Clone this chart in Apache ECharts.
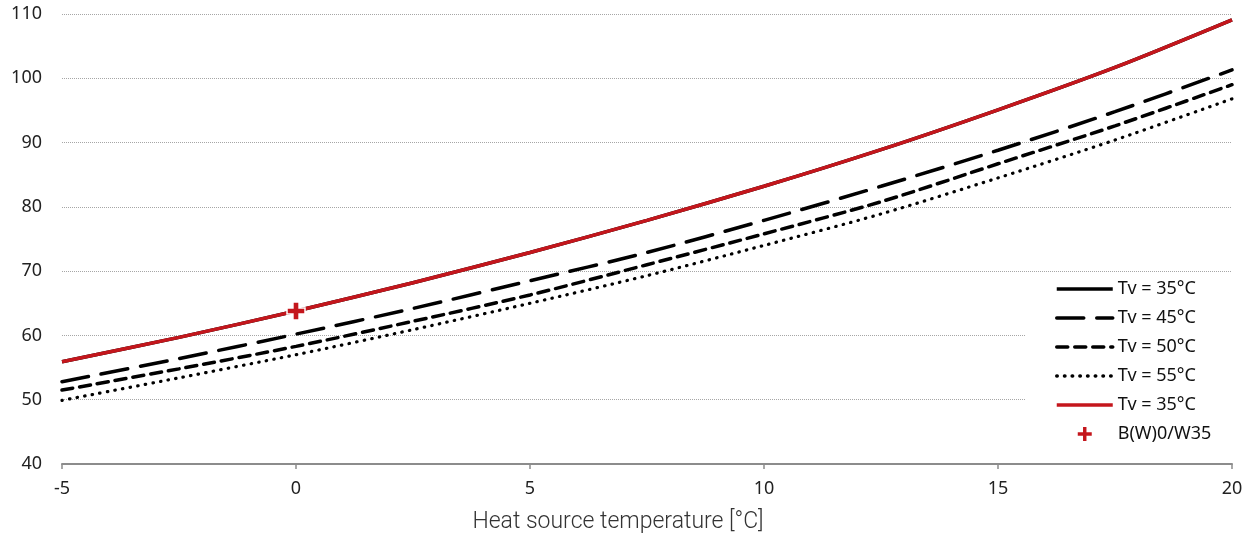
<!DOCTYPE html>
<html>
<head>
<meta charset="utf-8">
<script src="https://cdn.jsdelivr.net/npm/echarts@6/dist/echarts.min.js"></script>
<style>html,body{margin:0;padding:0;background:#fff;}#c{width:1253px;height:540px;}</style>
</head>
<body>
<div id="c"></div>
<script>
// Heat source temperature [°C]
const xs = [-5, -2.5, 0, 2.5, 5, 7.5, 10, 12.5, 15, 17.5, 20];
const tv35 = [55.9, 59.7, 63.8, 68.2, 72.9, 77.9, 83.2, 88.9, 95.1, 101.7, 109.1];
const tv45 = [52.8, 56.4, 60.2, 64.2, 68.5, 72.9, 77.9, 83.2, 88.8, 94.8, 101.3];
const tv50 = [51.5, 54.8, 58.3, 62.2, 66.3, 71.0, 75.8, 80.8, 86.7, 92.6, 99.0];
const tv55 = [49.9, 53.4, 57.0, 60.9, 65.0, 69.3, 74.0, 78.9, 84.5, 90.4, 96.8];
const pointX = [0];
const pointY = [63.8];
const seriesNames = ['Tv = 35°C', 'Tv = 45°C', 'Tv = 50°C', 'Tv = 55°C', 'Tv = 35°C ', 'B(W)0/W35'];
const xTicks = { min: -5, max: 20, interval: 5 };
const yTicks = { min: 40, max: 110, interval: 10 };
const xTitle = 'Heat source temperature [°C]';

const pairs = arr => xs.map((x, i) => [x, arr[i]]);
const plus = 'path://M3.3,0H6.7V3.3H10V6.7H6.7V10H3.3V6.7H0V3.3H3.3Z';
const font = '"Noto Sans", sans-serif';

const legendData = seriesNames.map((n, i) => i < 5
  ? { name: n, itemStyle: { opacity: 0 }, lineStyle: { width: 3.5 } }
  : { name: n });

const chart = echarts.init(document.getElementById('c'), null, { renderer: 'canvas' });
chart.setOption({
  animation: false,
  backgroundColor: '#fff',
  grid: { left: 62, right: 21, top: 14, bottom: 76, containLabel: false, outerBoundsMode: 'none' },
  xAxis: {
    type: 'value', min: xTicks.min, max: xTicks.max, interval: xTicks.interval,
    name: xTitle, nameLocation: 'middle', nameGap: 47,
    nameTextStyle: { fontFamily: 'Roboto, sans-serif', fontWeight: 300, fontSize: 23, color: '#333', padding: [0, 58, 0, 0] },
    axisLine: { lineStyle: { color: '#8c8c8c', width: 2 } },
    axisTick: { show: true, length: 5, lineStyle: { color: '#8c8c8c', width: 1.5 } },
    splitLine: { show: false },
    axisLabel: { fontFamily: font, fontSize: 18, color: '#222', margin: 16 }
  },
  yAxis: {
    type: 'value', min: yTicks.min, max: yTicks.max, interval: yTicks.interval,
    axisLine: { show: false }, axisTick: { show: false },
    splitLine: { show: true, lineStyle: { color: '#a6a6a6', width: 1, type: [1, 1] } },
    axisLabel: { fontFamily: font, fontSize: 18, color: '#222', margin: 20 }
  },
  legend: {
    orient: 'vertical', left: 1025, top: 274,
    padding: [6, 30, 6, 30],
    backgroundColor: '#fff',
    itemWidth: 56, itemHeight: 16, itemGap: 11,
    selectedMode: false,
    formatter: n => n.trim(),
    textStyle: { fontFamily: font, fontSize: 18, color: '#111' },
    data: legendData
  },
  series: [
    { name: seriesNames[0], type: 'line', data: pairs(tv35), smooth: 0.3, showSymbol: false, symbol: 'none',
      lineStyle: { color: '#000', width: 3.5 }, itemStyle: { color: '#000' }, z: 2 },
    { name: seriesNames[1], type: 'line', data: pairs(tv45), smooth: 0.3, showSymbol: false, symbol: 'none',
      lineStyle: { color: '#000', width: 3.5, type: [27, 13], cap: 'round' }, itemStyle: { color: '#000' }, z: 2 },
    { name: seriesNames[2], type: 'line', data: pairs(tv50), smooth: 0.3, showSymbol: false, symbol: 'none',
      lineStyle: { color: '#000', width: 3.5, type: [11, 7], cap: 'round' }, itemStyle: { color: '#000' }, z: 2 },
    { name: seriesNames[3], type: 'line', data: pairs(tv55), smooth: 0.3, showSymbol: false, symbol: 'none',
      lineStyle: { color: '#000', width: 3.2, type: [0.5, 7.2], cap: 'round' }, itemStyle: { color: '#000' }, z: 2 },
    { name: seriesNames[4], type: 'line', data: pairs(tv35), smooth: 0.3, showSymbol: false, symbol: 'none',
      lineStyle: { color: '#c4161c', width: 3.5 }, itemStyle: { color: '#c4161c' }, z: 3 },
    { name: seriesNames[5], type: 'scatter', data: pointX.map((x, i) => [x, pointY[i]]),
      symbol: plus, symbolSize: 18,
      itemStyle: { color: '#c4161c', borderColor: '#fff', borderWidth: 1.5, opacity: 1 }, z: 4 }
  ]
});
</script>
</body>
</html>
